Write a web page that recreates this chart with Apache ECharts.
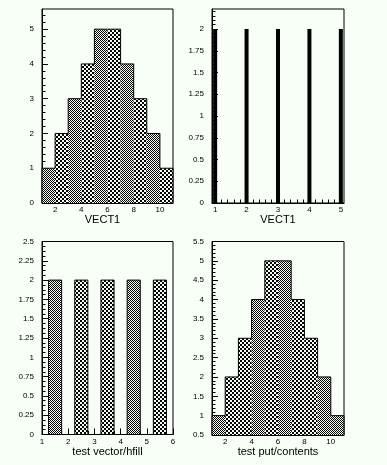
<!DOCTYPE html>
<html><head><meta charset="utf-8">
<script src="https://cdn.jsdelivr.net/npm/echarts@6/dist/echarts.min.js"></script>
<style>html,body{margin:0;padding:0;background:#f7fff7}#c{width:387px;height:465px}</style>
</head><body><div id="c"></div>
<script>
// ---------- data ----------
const p1BinLow = [1, 2, 3, 4, 5, 6, 7, 8, 9, 10];
const p1Counts = [1, 2, 3, 4, 5, 5, 4, 3, 2, 1];
const p2X = [1, 2, 3, 4, 5];
const p2Counts = [2, 2, 2, 2, 2];
const p3BarLow = [1.25, 2.25, 3.25, 4.25, 5.25];
const p3BarHigh = [1.75, 2.75, 3.75, 4.75, 5.75];
const p3Counts = [2, 2, 2, 2, 2];
const p4BinLow = [1, 2, 3, 4, 5, 6, 7, 8, 9, 10];
const p4Contents = [1, 2, 3, 4, 5, 5, 4, 3, 2, 1];
// ---------- tick labels ----------
const p1XLabels = [2, 4, 6, 8, 10];
const p1YLabels = [0, 1, 2, 3, 4, 5];
const p2XLabels = [1, 2, 3, 4, 5];
const p2YLabels = [0, 0.25, 0.5, 0.75, 1, 1.25, 1.5, 1.75, 2];
const p3XLabels = [1, 2, 3, 4, 5, 6];
const p3YLabels = [0, 0.25, 0.5, 0.75, 1, 1.25, 1.5, 1.75, 2, 2.25, 2.5];
const p4XLabels = [2, 4, 6, 8, 10];
const p4YLabels = [0.5, 1, 1.5, 2, 2.5, 3, 3.5, 4, 4.5, 5, 5.5];
const titles = ['VECT1', 'VECT1', 'test vector/hfill', 'test put/contents'];

// ---------- styling ----------
const BG = '#f7fff7';
const FONT = 'Liberation Sans, Arial, sans-serif';
function makePattern(cell) {
  const c = document.createElement('canvas');
  c.width = c.height = cell * 2;
  const g = c.getContext('2d');
  g.fillStyle = BG; g.fillRect(0, 0, cell * 2, cell * 2);
  g.fillStyle = '#000';
  g.fillRect(0, 0, cell, cell); g.fillRect(cell, cell, cell, cell);
  return { image: c, repeat: 'repeat' };
}
const FINE = makePattern(1), COARSE = makePattern(2);
const PATS = [FINE, COARSE];

function steps(a, b, s, skip) {
  const out = [];
  for (let v = a; v <= b + 1e-9; v += s) {
    const r = Math.round(v * 10000) / 10000;
    if (!skip.some(k => Math.abs(k - r) < 1e-6)) out.push(r);
  }
  return out;
}

const grids = [
  { left: 42, top: 9, width: 131, height: 194 },
  { left: 212, top: 9, width: 132, height: 194 },
  { left: 42, top: 241.5, width: 131, height: 193 },
  { left: 212, top: 241.5, width: 132, height: 193.5 }
].map(g => Object.assign({ show: true, borderColor: '#000', borderWidth: 1, backgroundColor: 'transparent' }, g));

const axisDefs = [
  { x: [1, 11], y: [0, 5.58], xl: p1XLabels, yl: p1YLabels, xm: [], ym: steps(0, 5.4, 0.2, p1YLabels) },
  { x: [0.9, 5.1], y: [0, 2.23], xl: p2XLabels, yl: p2YLabels, xm: steps(1, 5, 0.2, p2XLabels), ym: steps(0, 2.2, 0.05, p2YLabels) },
  { x: [1, 6], y: [0, 2.5], xl: p3XLabels, yl: p3YLabels, xm: steps(1, 6, 0.25, p3XLabels), ym: steps(0, 2.5, 0.0625, p3YLabels) },
  { x: [1, 11], y: [0.5, 5.5], xl: p4XLabels, yl: p4YLabels, xm: [], ym: steps(0.5, 5.5, 0.1, p4YLabels) }
];

const xAxis = [], yAxis = [];
axisDefs.forEach((d, gi) => {
  xAxis.push({
    type: 'value', gridIndex: gi, min: d.x[0], max: d.x[1], position: 'bottom',
    axisLine: { show: true, onZero: false, lineStyle: { color: '#000', width: 1 } },
    axisTick: { show: true, inside: true, length: 6, customValues: d.xl, lineStyle: { color: '#000' } },
    axisLabel: { show: true, customValues: d.xl, margin: 3, fontSize: 8, color: '#000', fontFamily: FONT },
    splitLine: { show: false },
    name: titles[gi], nameLocation: 'middle', nameGap: 10,
    nameTextStyle: { fontSize: 11, color: '#000', fontFamily: FONT, padding: gi === 0 ? [0, 10, 0, 0] : 0 }
  });
  xAxis.push({
    type: 'value', gridIndex: gi, min: d.x[0], max: d.x[1], position: 'bottom',
    axisLine: { show: false, onZero: false },
    axisTick: { show: d.xm.length > 0, inside: true, length: 3.5, customValues: d.xm.length ? d.xm : [d.x[0]], lineStyle: { color: '#000' } },
    axisLabel: { show: false }, splitLine: { show: false }
  });
  yAxis.push({
    type: 'value', gridIndex: gi, min: d.y[0], max: d.y[1], position: 'left',
    axisLine: { show: true, onZero: false, lineStyle: { color: '#000', width: 1 } },
    axisTick: { show: true, inside: true, length: 6, customValues: d.yl, lineStyle: { color: '#000' } },
    axisLabel: { show: true, customValues: d.yl, margin: 8, fontSize: 8, color: '#000', fontFamily: FONT },
    splitLine: { show: false }
  });
  yAxis.push({
    type: 'value', gridIndex: gi, min: d.y[0], max: d.y[1], position: 'left',
    axisLine: { show: false, onZero: false },
    axisTick: { show: true, inside: true, length: 3.5, customValues: d.ym, lineStyle: { color: '#000' } },
    axisLabel: { show: false }, splitLine: { show: false }
  });
});

function histSeries(gi, lows, highs, vals, base, pats, stroke) {
  return {
    type: 'custom', xAxisIndex: gi * 2, yAxisIndex: gi * 2, silent: true, animation: false, z: 2,
    data: lows.map((l, i) => [l, highs[i], vals[i], i]),
    renderItem: function (params, api) {
      const a = api.coord([api.value(0), api.value(2)]);
      const b = api.coord([api.value(1), base]);
      return {
        type: 'rect',
        shape: { x: a[0], y: a[1], width: b[0] - a[0], height: b[1] - a[1] },
        style: { fill: pats[api.value(3) % pats.length], stroke: stroke ? '#000' : null, lineWidth: stroke ? 1 : 0 }
      };
    }
  };
}
function outline(gi, lows, vals, width, base) {
  const pts = [[lows[0], base]];
  lows.forEach((l, i) => { pts.push([l, vals[i]]); pts.push([l + width, vals[i]]); });
  pts.push([lows[lows.length - 1] + width, base]);
  return {
    type: 'line', xAxisIndex: gi * 2, yAxisIndex: gi * 2, data: pts, symbol: 'none', silent: true,
    animation: false, z: 5, lineStyle: { color: '#000', width: 1 }
  };
}
const p1High = p1BinLow.map(v => v + 1);
const p4High = p4BinLow.map(v => v + 1);

const series = [
  histSeries(0, p1BinLow, p1High, p1Counts, 0, [FINE, COARSE], false),
  outline(0, p1BinLow, p1Counts, 1, 0),
  {
    type: 'custom', xAxisIndex: 2, yAxisIndex: 2, silent: true, animation: false,
    data: p2X.map((x, i) => [x, p2Counts[i]]),
    renderItem: function (params, api) {
      const a = api.coord([api.value(0), api.value(1)]);
      const b = api.coord([api.value(0), 0]);
      return { type: 'rect', shape: { x: a[0] - 2, y: a[1], width: 4, height: b[1] - a[1] }, style: { fill: '#000' } };
    }
  },
  histSeries(2, p3BarLow, p3BarHigh, p3Counts, 0, [FINE, COARSE, COARSE, FINE, COARSE], true),
  histSeries(3, p4BinLow, p4High, p4Contents, 0.5, [FINE, COARSE, COARSE, FINE, COARSE, FINE, COARSE, COARSE, FINE, FINE], false),
  outline(3, p4BinLow, p4Contents, 1, 0.5)
];

const chart = echarts.init(document.getElementById('c'), null, { renderer: 'canvas', devicePixelRatio: 1 });
chart.setOption({ backgroundColor: BG, animation: false, grid: grids, xAxis, yAxis, series });
</script>
</body></html>
